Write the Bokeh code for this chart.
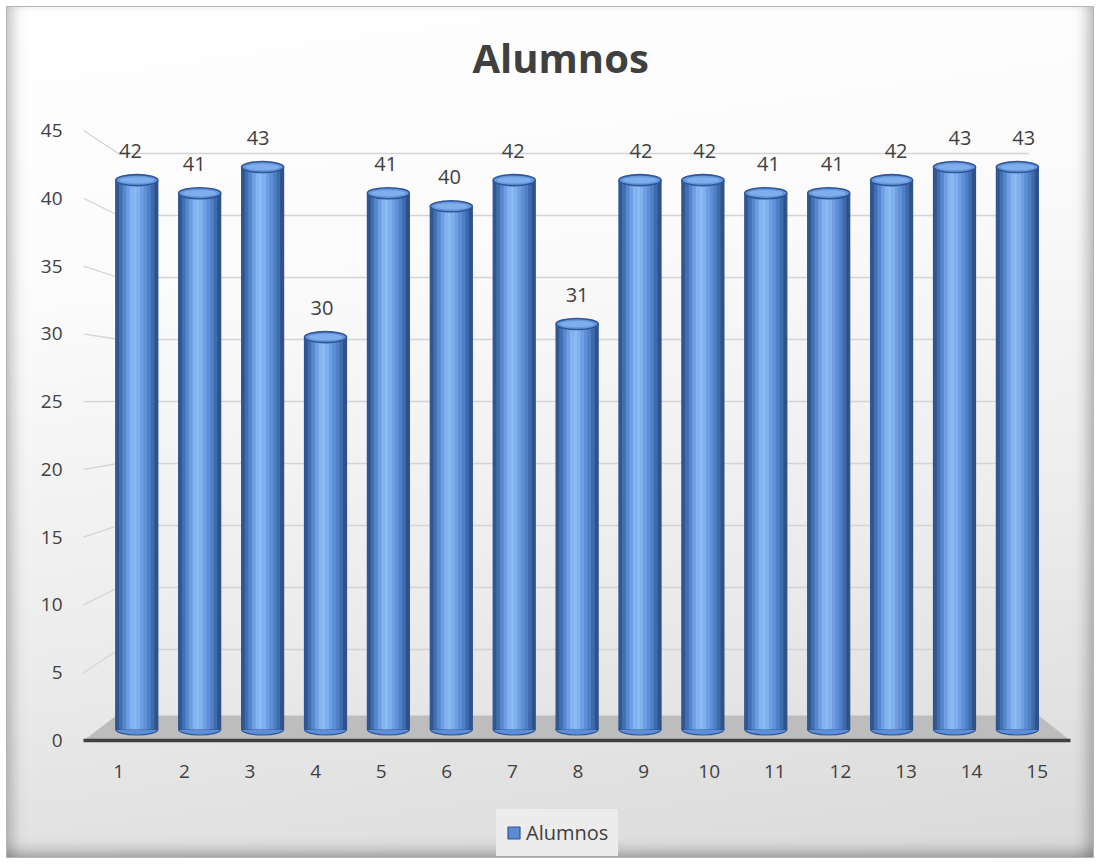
import numpy as np
from bokeh.plotting import figure
from bokeh.models import (Range1d, LinearAxis, FixedTicker, Legend, LegendItem,
                          ColumnDataSource)
from bokeh.embed import file_html
from bokeh.resources import INLINE
from bokeh.core.properties import value

# ---------------- data ----------------
categories = ["1", "2", "3", "4", "5", "6", "7", "8", "9", "10", "11", "12", "13", "14", "15"]
alumnos = [42, 41, 43, 30, 41, 40, 42, 31, 42, 42, 41, 41, 42, 43, 43]
y_ticks = [0, 5, 10, 15, 20, 25, 30, 35, 40, 45]
series_name = "Alumnos"
title_text = "Alumnos"

# ---------------- layout constants ----------------
OFF = 7                      # css margin of the chart box
W, H = 1086, 850
FL, FR, FT, FB = 70 - OFF, 1078 - OFF, 100 - OFF, H   # frame reaches the bottom edge
TEXT = "#404040"
FONT = "Open Sans"

def xr(c1, s):   # canvas = c1 + (k-1)*s
    return Range1d(start=1 + (FL - c1) / s, end=1 + (FR - c1) / s)

def yr(c0, s):   # canvas = c0 - s*v
    return Range1d(start=(c0 - FB) / s, end=(c0 - FT) / s)

# projection planes (front axis plane, bar plane, label plane, back wall)
MX = (118.3 - OFF, 65.6)
BX = (136.3 - OFF, 62.9)
LX = (130.0 - OFF, 63.8)
MY = (740.0 - OFF, 13.556)
BY = (729.0 - OFF, 13.08)
WY = (711.0 - OFF, 12.4)

def px_to_main_x(px):
    return 1 + (px - OFF - MX[0]) / MX[1]

def px_to_main_y(py):
    return (MY[0] - (py - OFF)) / MY[1]

def px_to_bar_x(px):
    return 1 + (px - OFF - BX[0]) / BX[1]

def wall_to_px(v):
    return WY[0] - WY[1] * v + OFF

p = figure(width=W, height=H, output_backend="svg", toolbar_location=None,
           x_range=xr(*MX), y_range=yr(*MY),
           x_axis_type=None, y_axis_type=None,
           frame_width=FR - FL, frame_height=FB - FT,
           min_border_left=FL, min_border_right=W - FR,
           min_border_top=FT, min_border_bottom=0)
p.extra_x_ranges = {"bar": xr(*BX), "lbl": xr(*LX)}
p.extra_y_ranges = {"bar": yr(*BY), "wall": yr(*WY)}
p.background_fill_color = None
p.border_fill_color = None
p.outline_line_color = None
p.styles = {
    "margin": f"{OFF}px 0 0 {OFF}px",
    "background": "linear-gradient(172deg, #ffffff 0%, #fbfbfb 30%, #ececec 65%, #d9d9d9 100%)",
    "box-shadow": "0 0 0 1px #b4b4b4, inset 14px 0 14px -8px rgba(0,0,0,0.22), "
                  "inset -14px 0 14px -8px rgba(0,0,0,0.25), inset 0 -14px 14px -8px rgba(0,0,0,0.25), "
                  "inset 0 14px 14px -8px rgba(255,255,255,0.9)",
}

# ---------------- title ----------------
p.title.text = title_text
p.title.align = "left"
p.title.text_font = FONT
p.title.text_font_size = "40px"
p.title.text_font_style = "bold"
p.title.text_color = TEXT
p.title.standoff = 31
p.title.offset = 472 - 70

# ---------------- back wall gridlines + diagonals ----------------
wall_left_px, wall_right_px = 118.0, 1028.0
front_left_px = 83.0
gt = [t for t in y_ticks if t > 0]
p.segment(x0=[px_to_bar_x(wall_left_px)] * len(gt), x1=[px_to_bar_x(wall_right_px)] * len(gt),
          y0=gt, y1=gt, x_range_name="bar", y_range_name="wall",
          line_color="#d4d4d4", line_width=1.3)
p.segment(x0=[px_to_main_x(front_left_px)] * len(gt), y0=gt,
          x1=[px_to_main_x(wall_left_px)] * len(gt),
          y1=[px_to_main_y(wall_to_px(t)) for t in gt],
          line_color="#d4d4d4", line_width=1.3)

# ---------------- floor ----------------
floor_px = [(83, 740), (1070, 740), (1038, 715), (116, 715)]
p.patch(x=[px_to_main_x(a) for a, b in floor_px], y=[px_to_main_y(b) for a, b in floor_px],
        fill_color="#bdbdbd", line_color=None)

# ---------------- cylinders ----------------
xs = list(range(1, len(categories) + 1))
BW = 0.668
src = ColumnDataSource(dict(x=xs, top=alumnos, zero=[0] * len(xs), cat=categories,
                            lab=[str(v) for v in alumnos]))

p.ellipse(x="x", y="zero", width=BW, height=11, height_units="screen", source=src,
          x_range_name="bar", y_range_name="bar",
          fill_color="#5d8fd6", line_color="#2f5597", line_width=1.2)

body = p.vbar(x="x", top="top", bottom="zero", width=BW, source=src,
              x_range_name="bar", y_range_name="bar",
              fill_color="#5b8bd0", line_color="#2f5597", line_width=1.2)

strip_colors = ["#30578f", "#416fb0", "#5788cd", "#6f9fe2", "#84b3ef", "#8cbbf3",
                "#80b0ee", "#6e9fe3", "#5f90d7", "#4f7fc5", "#3f6aab", "#2f5288"]
n = len(strip_colors)
sw = BW / n
for j, c in enumerate(strip_colors):
    off = -BW / 2 + (j + 0.5) * sw
    p.vbar(x=[x + off for x in xs], top=alumnos, bottom=0, width=sw * 1.04,
           x_range_name="bar", y_range_name="bar",
           fill_color=c, line_color=None)

p.ellipse(x="x", y="top", width=BW, height=11, height_units="screen", source=src,
          x_range_name="bar", y_range_name="bar",
          fill_color="#6898dc", line_color="#2f5597", line_width=1.6)
p.ellipse(x="x", y="top", width=BW * 0.8, height=6, height_units="screen", source=src,
          x_range_name="bar", y_range_name="bar",
          fill_color="#7eaeec", line_color=None)

# ---------------- data labels ----------------
p.text(x="x", y="top", text="lab", source=src, x_range_name="lbl", y_range_name="bar",
       y_offset=-29, text_align="center", text_baseline="middle",
       text_font=value(FONT), text_font_size="20px", text_color=TEXT)

# ---------------- axes ----------------
xaxis = LinearAxis(ticker=FixedTicker(ticks=xs), fixed_location=0,
                   major_label_overrides={x: c for x, c in zip(xs, categories)},
                   bounds=(px_to_main_x(83), px_to_main_x(1070)))
xaxis.axis_line_color = "#404040"
xaxis.axis_line_width = 3.5
xaxis.major_tick_line_color = None
xaxis.minor_tick_line_color = None
xaxis.major_tick_out = 0
xaxis.major_label_standoff = 24
xaxis.major_label_text_font = FONT
xaxis.major_label_text_font_size = "19px"
xaxis.major_label_text_color = TEXT
p.add_layout(xaxis, "below")

yaxis = LinearAxis(ticker=FixedTicker(ticks=y_ticks))
yaxis.axis_line_color = None
yaxis.major_tick_line_color = None
yaxis.minor_tick_line_color = None
yaxis.major_tick_out = 0
yaxis.major_label_standoff = 8
yaxis.major_label_text_font = FONT
yaxis.major_label_text_font_size = "19px"
yaxis.major_label_text_color = TEXT
p.add_layout(yaxis, "left")

# ---------------- legend (inside the extended frame, bottom centre) ----------------
legend = Legend(items=[LegendItem(label=series_name, renderers=[body])],
                location=(426, 1), orientation="horizontal",
                label_text_font=FONT, label_text_font_size="20px", label_text_color=TEXT,
                glyph_width=15, glyph_height=15, label_standoff=5,
                padding=9, margin=0, spacing=0,
                background_fill_color="#ececec", background_fill_alpha=1.0,
                border_line_color="#ececec", border_line_width=1)
p.add_layout(legend, "center")

open("out.html", "w").write(file_html(p, INLINE))
